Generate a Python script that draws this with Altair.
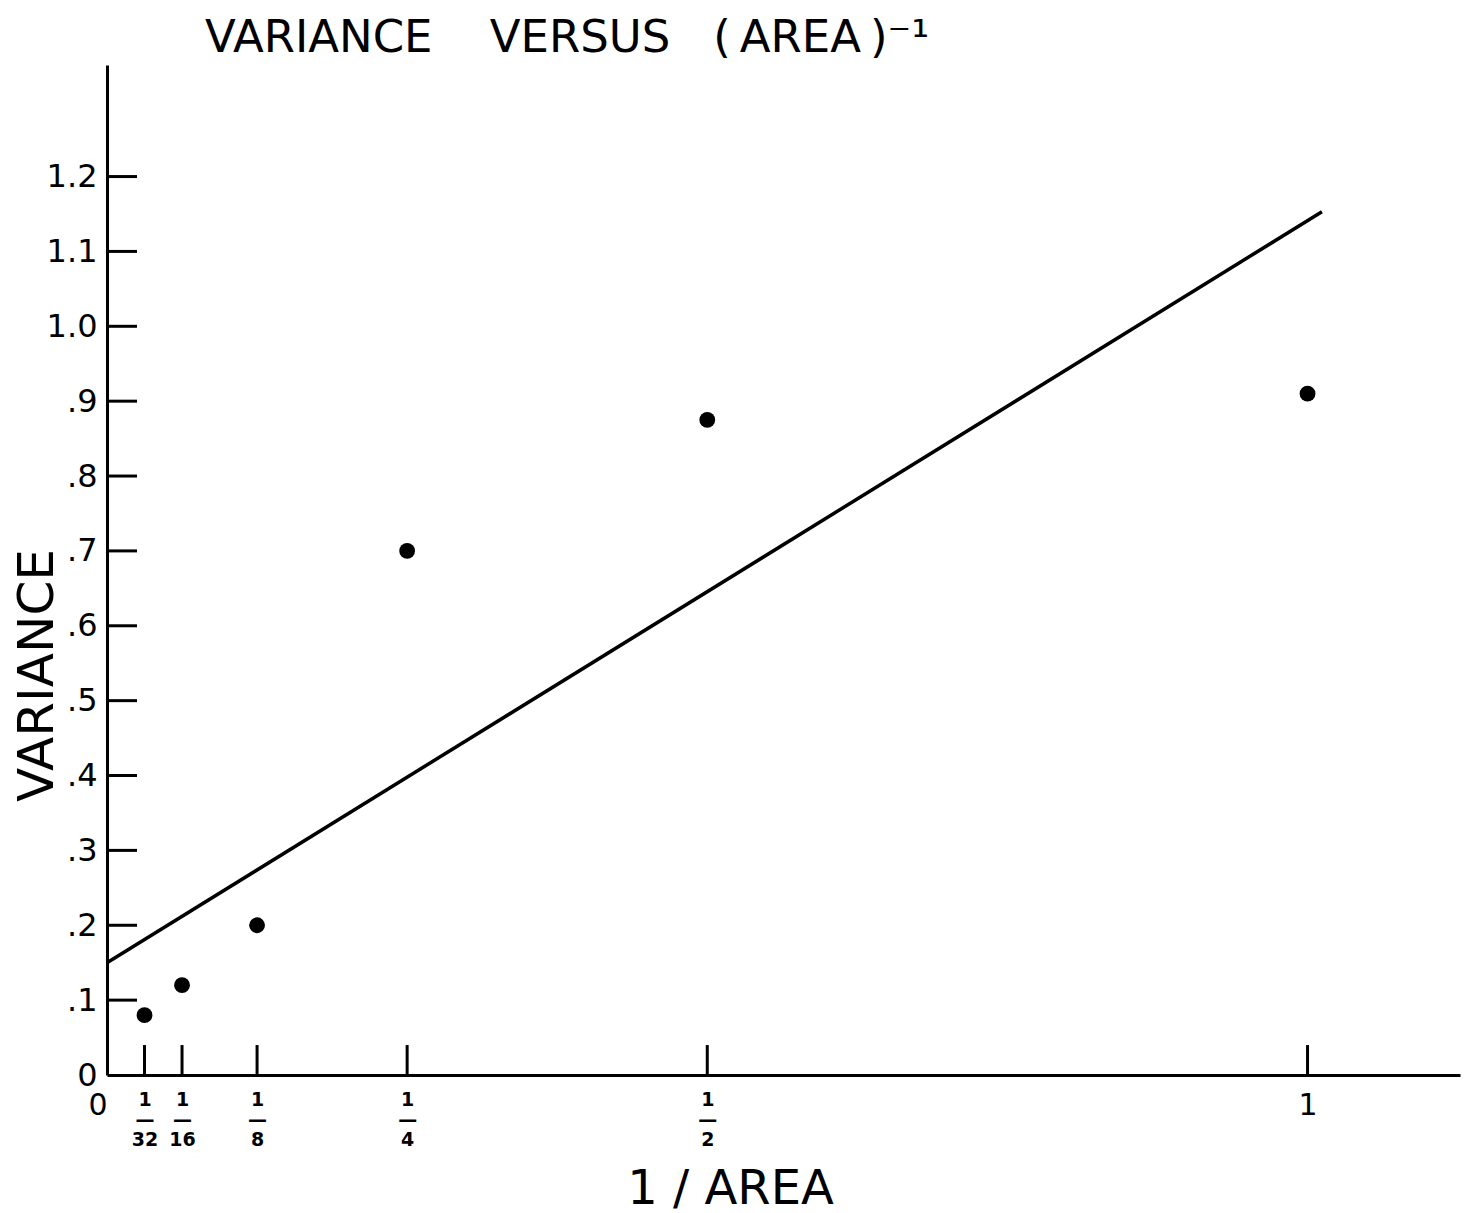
import altair as alt
import pandas as pd

# ---- data ----
inv_area = [1/32, 1/16, 1/8, 1/4, 1/2, 1.0]
variance = [0.08, 0.12, 0.20, 0.70, 0.875, 0.91]

fit_x = [0.0, 1.012]
fit_y = [0.15, 1.153]

x_tick_values = [0, 1/32, 1/16, 1/8, 1/4, 1/2, 1.0]
x_tick_marks = [1/32, 1/16, 1/8, 1/4, 1/2, 1.0]
y_tick_values = [0, 0.1, 0.2, 0.3, 0.4, 0.5, 0.6, 0.7, 0.8, 0.9, 1.0, 1.1, 1.2]
y_tick_marks = [0.1, 0.2, 0.3, 0.4, 0.5, 0.6, 0.7, 0.8, 0.9, 1.0, 1.1, 1.2]

X_MAX = 1.127
Y_MAX = 1.349
X_TICK_LEN = 0.04   # in variance units
Y_TICK_LEN = 0.025  # in 1/area units

FONT = "DejaVu Sans, sans-serif"
NB = "\u00a0"

pts = pd.DataFrame({"x": inv_area, "y": variance})
fit = pd.DataFrame({"x": fit_x, "y": fit_y})
xt = pd.DataFrame({"x": x_tick_marks, "y": [0.0] * len(x_tick_marks),
                   "y2": [X_TICK_LEN] * len(x_tick_marks)})
yt = pd.DataFrame({"y": y_tick_marks, "x": [0.0] * len(y_tick_marks),
                   "x2": [Y_TICK_LEN] * len(y_tick_marks)})

x_label_expr = (
    "datum.value == 0 ? '0' : "
    "abs(datum.value - 1) < 1e-9 ? '1' : "
    "['1', '\u2014', format(1 / datum.value, 'd')]"
)
y_label_expr = (
    "datum.value == 0 ? '0' : "
    "datum.value >= 0.999 ? format(datum.value, '.1f') : "
    "replace(format(datum.value, '.1f'), '0.', '.')"
)
big_label = "datum.value === 0 || datum.value === 1"

x_axis = alt.Axis(
    values=x_tick_values,
    labelExpr=x_label_expr,
    ticks=False,
    grid=False,
    domainColor="black",
    domainWidth=3,
    labelFont=FONT,
    labelFontSize={"condition": {"test": big_label, "value": 30}, "value": 19},
    labelFontWeight={"condition": {"test": big_label, "value": "normal"}, "value": "bold"},
    labelColor="black",
    labelPadding=15,
    labelLineHeight=20,
    labelBaseline="top",
    labelAlign={"condition": {"test": "datum.value === 0", "value": "right"}, "value": "center"},
    labelFlush=False,
    labelOverlap=False,
    title="1 / AREA",
    titleFont=FONT,
    titleFontSize=48,
    titleFontWeight="normal",
    titleColor="black",
    titleX=623,
    titleY=128,
    titleAlign="center",
    titleBaseline="alphabetic",
)

y_axis = alt.Axis(
    values=y_tick_values,
    labelExpr=y_label_expr,
    ticks=False,
    grid=False,
    domainColor="black",
    domainWidth=3,
    labelFont=FONT,
    labelFontSize=32,
    labelColor="black",
    labelPadding=10,
    labelFlush=False,
    labelOverlap=False,
    title="VARIANCE",
    titleFont=FONT,
    titleFontSize=50,
    titleFontWeight="normal",
    titleColor="black",
    titleAngle=270,
    titleX=-55,
    titleY=610,
    titleAlign="center",
    titleBaseline="alphabetic",
)

xs = alt.Scale(domain=[0, X_MAX], nice=False, zero=True)
ys = alt.Scale(domain=[0, Y_MAX], nice=False, zero=True)

points = alt.Chart(pts).mark_circle(size=250, color="black", opacity=1).encode(
    x=alt.X("x:Q", scale=xs, axis=x_axis),
    y=alt.Y("y:Q", scale=ys, axis=y_axis),
)

line = alt.Chart(fit).mark_line(color="black", strokeWidth=3.5).encode(
    x=alt.X("x:Q", scale=xs, axis=x_axis),
    y=alt.Y("y:Q", scale=ys, axis=y_axis),
)

xticks = alt.Chart(xt).mark_rule(color="black", strokeWidth=3).encode(
    x=alt.X("x:Q", scale=xs, axis=x_axis),
    y=alt.Y("y:Q", scale=ys, axis=y_axis),
    y2="y2:Q",
)

yticks = alt.Chart(yt).mark_rule(color="black", strokeWidth=3).encode(
    x=alt.X("x:Q", scale=xs, axis=x_axis),
    x2="x2:Q",
    y=alt.Y("y:Q", scale=ys, axis=y_axis),
)

title_text = ("VARIANCE" + NB * 4 + "VERSUS" + NB * 3 +
              "(\u2009AREA\u2009)\u207b\u00b9")

chart = (
    alt.layer(line, xticks, yticks, points)
    .properties(
        width=1353,
        height=1010,
        autosize="none",
        padding={"left": 99, "top": 57, "right": 2, "bottom": 145},
        background="white",
        title=alt.TitleParams(
            text=title_text,
            anchor="start",
            frame="group",
            dx=98,
            offset=4,
            font=FONT,
            fontSize=45,
            fontWeight="normal",
            color="black",
        ),
    )
    .configure_view(strokeWidth=0)
)

chart.save("out.html", embed_options={"renderer": "svg", "actions": False})
